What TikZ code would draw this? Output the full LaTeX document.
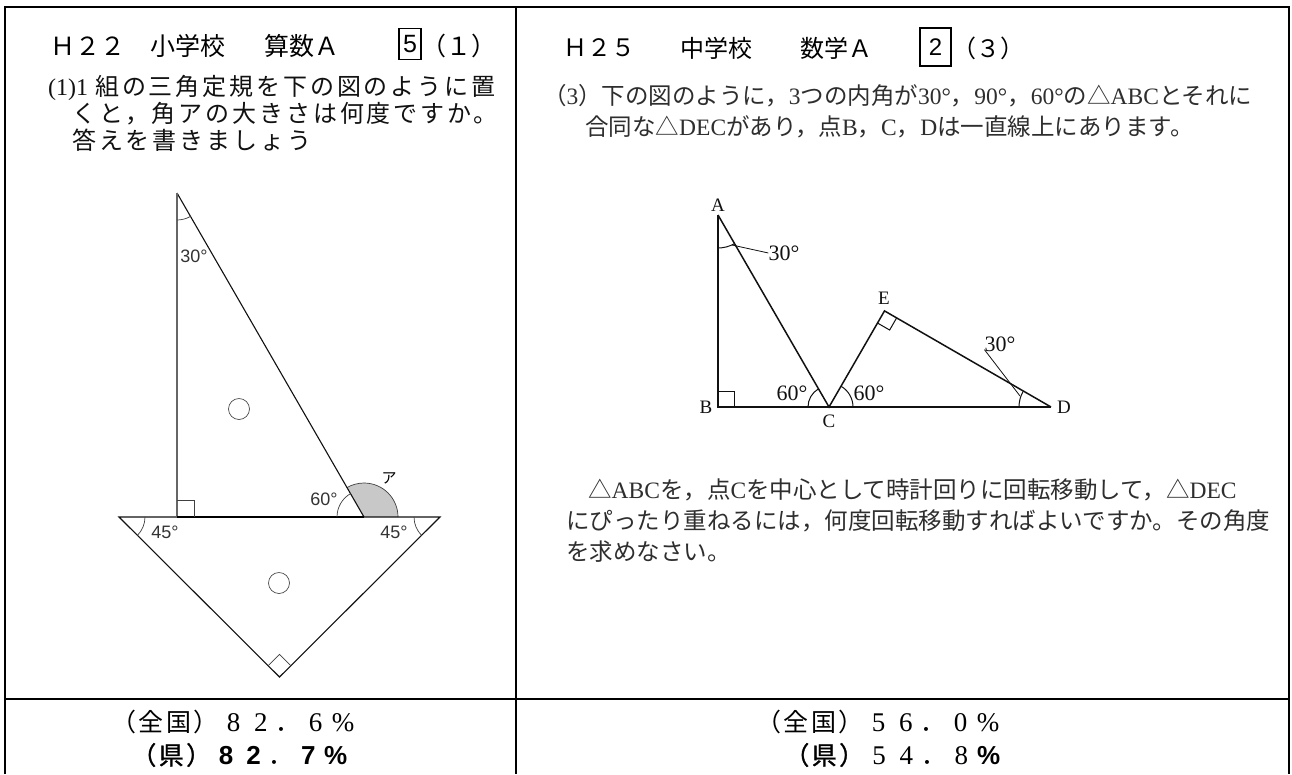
\documentclass[tikz,border=0pt]{standalone}
\usepackage{fontspec}
\setmainfont{Liberation Serif}
\setsansfont{Liberation Sans}
\newfontfamily\jp{Noto Sans CJK JP}
\newfontfamily\jpls{Noto Sans CJK JP}[LetterSpace=12]
\newfontfamily\jpbf{Noto Sans CJK JP}[FakeBold=1.2]
\usetikzlibrary{calc}
\definecolor{ink}{HTML}{111111}
\definecolor{soft}{HTML}{2E2E2E}
\definecolor{sectorgray}{HTML}{C8C8C8}
\newcommand\cel[1]{\makebox[27.4pt]{#1}}
\newcommand\dg[1]{\cel{\rmfamily\fontsize{27}{27}\selectfont #1}}
\newcommand\bd[1]{\cel{\sffamily\bfseries\fontsize{26}{26}\selectfont #1}}
\tikzset{
  tbl/.style={line width=2pt, draw=black},
  ttl/.style={anchor=west, inner sep=0pt, font=\jp\fontsize{25}{25}\selectfont},
  ttlr/.style={anchor=west, inner sep=0pt, font=\jp\fontsize{24}{24}\selectfont},
  numbox/.style={draw, line width=1.3pt, inner sep=0pt, font=\sffamily\fontsize{25}{25}\selectfont},
  bodyl/.style={anchor=west, inner sep=0pt, text=ink, font=\jpls\fontsize{24}{24}\selectfont},
  bodyr/.style={anchor=west, inner sep=0pt, text=soft, font=\jp\fontsize{23.5}{23.5}\selectfont},
  rate/.style={anchor=west, inner sep=0pt, font=\jp\fontsize{25}{25}\selectfont},
  figl/.style={line width=1.1pt, draw=ink},
  angl/.style={line width=0.7pt, draw=black!75},
  lblsans/.style={inner sep=0pt, text=black!80, font=\sffamily\fontsize{18}{18}\selectfont},
  figr/.style={line width=1.5pt, draw=ink, line join=miter},
  angr/.style={line width=1pt, draw=ink},
  lblser/.style={inner sep=0pt, text=ink, font=\rmfamily\fontsize{19}{19}\selectfont},
  degser/.style={inner sep=0pt, text=ink, font=\rmfamily\fontsize{22}{22}\selectfont},
  hole/.style={circle, draw=black!70, line width=0.7pt, minimum size=21pt, inner sep=0pt}
}
\begin{document}
\begin{tikzpicture}[x=1pt,y=-1pt]
\useasboundingbox (0,0) rectangle (1292,774);
\fill[white] (0,0) rectangle (1292,774);

% ---------- table ----------
\coordinate (tl) at (5,7);
\coordinate (tr) at (1289,7);
\coordinate (bl) at (5,774);
\coordinate (br) at (1289,774);
\coordinate (mt) at (516,7);
\coordinate (mb) at (516,774);
\coordinate (hl) at (5,699);
\coordinate (hr) at (1289,699);
\draw[tbl] (bl) -- (tl) -- (tr) -- (br);
\draw[tbl] (mt) -- (mb);
\draw[tbl] (hl) -- (hr);

% ---------- left title ----------
\node[ttl] (lt1) at (50,46) {Ｈ２２};
\node[ttl] (lt2) at (150,46) {小学校};
\node[ttl] (lt3) at (264,46) {算数Ａ};
\node[numbox, minimum width=22pt, minimum height=31pt] (lbox) at (410,44) {5};
\node[ttl] (lt4) at (421,46) {（１）};

% ---------- left question ----------
\node[bodyl] (lq1) at (48,88) {{\rmfamily (1)1}\hspace{7pt}組の三角定規を下の図のように置};
\node[bodyl] (lq2) at (72,114) {くと，角アの大きさは何度ですか。};
\node[bodyl] (lq3) at (72,140) {答えを書きましょう};

% ---------- left figure ----------
\coordinate (T) at (177,193);
\coordinate (Rt) at (177,517);
\coordinate (S) at (364,517);
\coordinate (L) at (119,517);
\coordinate (Rr) at (440,517);
\coordinate (Bt) at (279.5,677);
% shaded angle
\fill[sectorgray] (S) -- ++(0:34) arc[start angle=0, end angle=-120, radius=34] -- cycle;
\draw[angl] ($(S)+(0:34)$) arc[start angle=0, end angle=-120, radius=34];
% isosceles set square
\draw[figl] (L) -- (Rr) -- (Bt) -- cycle;
% 30-60-90 set square
\draw[figl] (T) -- (S);
\draw[line width=2.2pt, draw=black!60] (T) -- (Rt);
\draw[line width=2pt, draw=black] (Rt) -- (S);
% angle marks
\draw[angl] ($(S)+(-180:27)$) arc[start angle=-180, end angle=-120, radius=27];
\draw[angl] ($(T)+(60:27)$) arc[start angle=60, end angle=90, radius=27];
\draw[angl] ($(L)+(0:26)$) arc[start angle=0, end angle=45, radius=26];
\draw[angl] ($(Rr)+(135:26)$) arc[start angle=135, end angle=180, radius=26];
\draw[angl] ($(Rt)+(0,-17)$) -- ++(17,0) -- ++(0,17);
\coordinate (q1) at ($(Bt)!16pt!(L)$);
\coordinate (q2) at ($(Bt)!16pt!(Rr)$);
\draw[angl] (q1) -- ($(q1)+(q2)-(Bt)$) -- (q2);
\node[hole] (c1) at (239,409) {};
\node[hole] (c2) at (279,583) {};
\node[lblsans] (l30) at (194,256) {30°};
\node[lblsans] (l60) at (324,499) {60°};
\node[lblsans] (l45a) at (165,532) {45°};
\node[lblsans] (l45b) at (394,532) {45°};
\node[inner sep=0pt, font=\jp\fontsize{15}{15}\selectfont] (la) at (389,478) {ア};

% ---------- right title ----------
\node[ttlr] (rt1) at (563,48) {Ｈ２５};
\node[ttlr] (rt2) at (680,48) {中学校};
\node[ttlr] (rt3) at (800,48) {数学Ａ};
\node[numbox, minimum width=31pt, minimum height=38pt, font=\sffamily\fontsize{24}{24}\selectfont] (rbox) at (935.5,47) {2};
\node[ttlr] (rt4) at (952,48) {（３）};

% ---------- right question ----------
\node[bodyr] (rq1) at (543,96) {（{\rmfamily 3}）下の図のように，{\rmfamily 3}つの内角が{\rmfamily 30°}，{\rmfamily 90°}，{\rmfamily 60°}の△{\rmfamily ABC}とそれに};
\node[bodyr] (rq2) at (585,127) {合同な△{\rmfamily DEC}があり，点{\rmfamily B}，{\rmfamily C}，{\rmfamily D}は一直線上にあります。};

% ---------- right figure ----------
\coordinate (A) at (718,215);
\coordinate (B) at (718,407);
\coordinate (C) at (829,407);
\coordinate (E) at (884.5,310.9);
\coordinate (D) at (1051,407);
\draw[figr] (A) -- (B) -- (D);
\draw[figr] (A) -- (C) -- (E) -- (D);
\draw[angr] ($(B)+(0,-16)$) -- ++(16,0) -- ++(0,16);
\coordinate (e1) at ($(E)!14pt!(C)$);
\coordinate (e2) at ($(E)!14pt!(D)$);
\draw[angr] (e1) -- ($(e1)+(e2)-(E)$) -- (e2);
\draw[angr] ($(A)+(60:33)$) arc[start angle=60, end angle=90, radius=33];
\draw[angr] ($(C)+(-180:21)$) arc[start angle=-180, end angle=-120, radius=21];
\draw[angr] ($(C)+(-60:24)$) arc[start angle=-60, end angle=0, radius=24];
\draw[angr] ($(D)+(180:32)$) arc[start angle=180, end angle=210, radius=32];
\node[lblser] (nA) at (718,205) {A};
\node[lblser] (nB) at (706,407) {B};
\node[lblser] (nC) at (829,421) {C};
\node[lblser] (nE) at (884,298) {E};
\node[lblser] (nD) at (1064,407) {D};
\node[degser] (d30a) at (784,253) {30°};
\node[degser] (d60a) at (792,393) {60°};
\node[degser] (d60b) at (869,393) {60°};
\node[degser] (d30b) at (1000,344) {30°};
\coordinate (k1) at (732,245);
\draw[angr, line width=0.8pt] (k1) -- (d30a.west);
\coordinate (k2) at (1020,396);
\draw[angr, line width=0.8pt] (k2) -- ($(d30b.south west)+(0,-2)$);

% ---------- right lower text ----------
\node[bodyr] (rp1) at (588,490) {△{\rmfamily ABC}を，点{\rmfamily C}を中心として時計回りに回転移動して，△{\rmfamily DEC}};
\node[bodyr] (rp2) at (566,521) {にぴったり重ねるには，何度回転移動すればよいですか。その角度};
\node[bodyr] (rp3) at (566,552) {を求めなさい。};

% ---------- rates ----------
\node[rate] (zl1) at (110,722) {\cel{（}\cel{全}\cel{国}\cel{）}\dg{8}\dg{2}\cel{．}\dg{6}\dg{\%}};
\node[rate] (zl2) at (130,755) {\cel{\jpbf （}\cel{\jpbf 県}\cel{\jpbf ）}\bd{8}\bd{2}\cel{．}\bd{7}\bd{\%}};
\node[rate] (zr1) at (755,722) {\cel{（}\cel{全}\cel{国}\cel{）}\dg{5}\dg{6}\cel{．}\dg{0}\dg{\%}};
\node[rate] (zr2) at (783,755) {\cel{\jpbf （}\cel{\jpbf 県}\cel{\jpbf ）}\dg{5}\dg{4}\cel{．}\dg{8}\bd{\%}};
\end{tikzpicture}
\end{document}
